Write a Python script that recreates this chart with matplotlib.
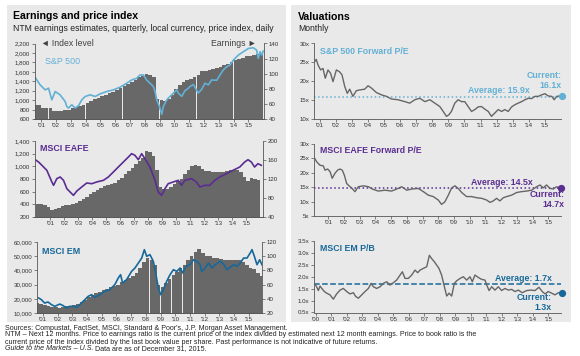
import numpy as np
import matplotlib
matplotlib.use('Agg')
import matplotlib.pyplot as plt
from matplotlib.patches import Rectangle

plt.rcParams['font.family'] = ['Liberation Sans', 'DejaVu Sans']

W, H = 580, 356

# ---- left column: NTM earnings (quarterly bars) and price index (line) ----
sp_eps_start = 2000.5
sp_eps = [59, 59,
          55, 55, 54, 51, 50, 50, 52, 52, 54, 56, 57, 59, 61, 64, 66, 68,
          70, 72, 74, 76, 78, 81, 84, 87, 89, 92, 95, 97, 99, 98, 96, 66,
          65, 64, 66, 72, 80, 85, 89, 91, 93, 96, 98, 103, 104, 105, 106, 107,
          109, 111, 113, 116, 118, 119, 121, 123, 124, 125, 126, 128]
sp_px_year = [2000.59, 2000.71, 2000.93, 2001.27, 2001.50, 2001.72, 2001.95, 2002.28, 2002.62, 2002.73,
              2002.85, 2003.07, 2003.30, 2003.52, 2003.75, 2003.97, 2004.31, 2004.65, 2004.98, 2005.43,
              2005.88, 2006.33, 2006.78, 2007.12, 2007.46, 2007.68, 2007.91, 2008.13, 2008.36, 2008.58,
              2008.70, 2008.81, 2008.99, 2009.15, 2009.26, 2009.49, 2009.82, 2010.16, 2010.27, 2010.50,
              2010.72, 2010.95, 2011.06, 2011.29, 2011.62, 2011.85, 2012.07, 2012.30, 2012.52, 2012.86,
              2013.09, 2013.31, 2013.54, 2013.76, 2013.99, 2014.32, 2014.66, 2015.00, 2015.34, 2015.56,
              2015.67, 2015.79, 2015.90, 2016.01]
sp_px = [1484, 1428, 1323, 1217, 1253, 1007, 1182, 1112, 972, 867,
         832, 902, 832, 880, 1007, 1077, 1112, 1077, 1133, 1182,
         1217, 1274, 1358, 1428, 1463, 1533, 1533, 1428, 1358, 1288,
         1182, 1007, 867, 700, 867, 1007, 1112, 1217, 1147, 1080,
         1200, 1253, 1290, 1330, 1150, 1230, 1358, 1323, 1428, 1420,
         1533, 1639, 1709, 1744, 1849, 1954, 2025, 2095, 2110, 2060,
         1884, 2025, 1954, 2040]

eafe_eps_start = 2000.0
eafe_eps = [68, 68, 66, 62, 55, 57, 60, 64, 65, 66, 68, 70, 73, 78, 83, 88,
            92, 96, 101, 105, 107, 109, 112, 117, 123, 130, 137, 144, 152, 158, 165, 179,
            176, 168, 140, 104, 100, 98, 104, 110, 116, 121, 130, 140, 148, 150, 148, 142,
            137, 136, 135, 134, 134, 135, 137, 139, 140, 139, 134, 125, 116, 123, 120, 117]
eafe_px_year = [1999.93, 2000.17, 2000.41, 2000.76, 2001.12, 2001.24, 2001.47, 2001.71, 2001.95, 2002.19,
                2002.42, 2002.66, 2002.90, 2003.25, 2003.61, 2003.97, 2004.32, 2004.80, 2005.15, 2005.51,
                2005.86, 2006.22, 2006.58, 2006.81, 2007.05, 2007.29, 2007.53, 2007.76, 2008.12, 2008.48,
                2008.71, 2008.95, 2009.19, 2009.42, 2009.78, 2010.14, 2010.37, 2010.61, 2011.09, 2011.44,
                2011.68, 2012.03, 2012.39, 2012.75, 2013.10, 2013.58, 2014.05, 2014.53, 2014.88, 2015.12,
                2015.36, 2015.59, 2015.83, 2016.07]
eafe_px = [1105, 1068, 1016, 937, 753, 700, 805, 832, 779, 647,
           595, 542, 610, 674, 737, 726, 753, 779, 832, 911,
           989, 1068, 1147, 1200, 1174, 1105, 1200, 1121, 990, 780,
           595, 542, 647, 726, 753, 779, 700, 779, 805, 753,
           674, 700, 700, 779, 832, 884, 937, 989, 1068, 1105,
           1068, 989, 1042, 1016]

em_eps_start = 2000.5
em_eps = [34, 33,
          31, 30, 29, 28, 27, 29, 30, 30, 31, 33, 36, 39, 43, 46, 48, 50,
          52, 54, 56, 58, 60, 63, 66, 69, 72, 77, 84, 92, 97, 95, 88, 60,
          56, 62, 68, 74, 78, 84, 88, 94, 100, 106, 110, 104, 100, 100, 98, 97,
          96, 95, 95, 94, 94, 94, 92, 88, 84, 82, 76, 72]
em_px_year = [2000.70, 2000.89, 2001.11, 2001.34, 2001.57, 2001.80, 2002.14, 2002.37, 2002.59, 2002.82,
              2003.05, 2003.28, 2003.50, 2003.85, 2004.07, 2004.30, 2004.53, 2004.87, 2005.21, 2005.55,
              2005.89, 2006.12, 2006.28, 2006.42, 2006.69, 2007.03, 2007.26, 2007.49, 2007.72, 2007.90,
              2008.06, 2008.28, 2008.51, 2008.69, 2008.85, 2009.01, 2009.19, 2009.42, 2009.65, 2009.88,
              2010.11, 2010.33, 2010.52, 2010.74, 2011.02, 2011.24, 2011.47, 2011.70, 2011.81, 2012.04,
              2012.27, 2012.50, 2012.72, 2013.06, 2013.29, 2013.52, 2013.75, 2013.98, 2014.20, 2014.43,
              2014.66, 2014.89, 2015.11, 2015.23, 2015.39, 2015.57, 2015.75, 2015.91]
em_px = [20560, 19400, 17000, 17750, 15900, 14700, 16300, 15200, 13500, 14700,
         14700, 14000, 15900, 19400, 21700, 22900, 21000, 22900, 25300, 26400,
         30000, 34600, 37000, 31100, 33500, 39300, 41700, 45200, 48700, 54600,
         49900, 51100, 46400, 37000, 27600, 22900, 26400, 32300, 37000, 40500,
         39300, 41700, 38200, 42900, 44000, 47500, 46400, 44000, 39300, 41700,
         45200, 41700, 44000, 46400, 44500, 40500, 42200, 44000, 42900, 45200,
         48700, 48700, 52300, 54600, 49900, 44000, 47500, 44000]

# ---- right column: valuations, monthly ----
sp_pe_year = [2000.69, 2000.79, 2000.90, 2001.06, 2001.21, 2001.35, 2001.52, 2001.68, 2001.83, 2002.04,
              2002.24, 2002.39, 2002.56, 2002.72, 2002.87, 2003.07, 2003.28, 2003.49, 2003.80, 2004.01,
              2004.22, 2004.53, 2004.84, 2005.15, 2005.46, 2005.88, 2006.29, 2006.60, 2006.91, 2007.22,
              2007.54, 2007.85, 2008.16, 2008.47, 2008.68, 2008.88, 2009.03, 2009.19, 2009.40, 2009.61,
              2009.82, 2010.02, 2010.23, 2010.44, 2010.65, 2010.85, 2011.06, 2011.27, 2011.48, 2011.68,
              2011.89, 2012.10, 2012.31, 2012.51, 2012.72, 2012.93, 2013.14, 2013.34, 2013.55, 2013.76,
              2013.97, 2014.17, 2014.38, 2014.59, 2014.80, 2015.00, 2015.21, 2015.42, 2015.58, 2015.73,
              2015.94]
sp_pe = [25.2, 25.8, 24.3, 23.0, 23.4, 20.8, 23.0, 22.1, 19.9, 23.0,
         22.5, 21.7, 18.6, 16.8, 17.9, 16.0, 17.5, 17.7, 17.9, 18.8,
         18.2, 17.0, 16.4, 16.0, 15.3, 15.1, 14.6, 14.2, 15.1, 15.5,
         14.6, 15.1, 14.2, 13.3, 12.0, 10.7, 11.1, 12.0, 14.2, 15.1,
         14.6, 14.6, 13.3, 12.0, 12.5, 13.2, 13.3, 12.6, 12.0, 10.7,
         11.6, 12.5, 12.0, 12.5, 12.0, 13.2, 13.8, 14.2, 14.6, 15.1,
         15.5, 15.4, 16.0, 16.0, 16.4, 16.7, 16.1, 16.0, 15.1, 16.0,
         16.1]
sp_pe_avg, sp_pe_cur = 15.9, 16.1

eafe_pe_year = [2000.11, 2000.26, 2000.47, 2000.68, 2000.79, 2000.96, 2001.11, 2001.25, 2001.42, 2001.59,
                2001.74, 2001.89, 2002.02, 2002.17, 2002.32, 2002.48, 2002.70, 2002.91, 2003.23, 2003.55,
                2003.80, 2004.18, 2004.61, 2005.03, 2005.35, 2005.67, 2005.99, 2006.30, 2006.73, 2007.05,
                2007.36, 2007.68, 2008.00, 2008.21, 2008.42, 2008.64, 2008.85, 2009.06, 2009.27, 2009.49,
                2009.80, 2010.12, 2010.44, 2010.76, 2011.08, 2011.29, 2011.50, 2011.71, 2011.92, 2012.14,
                2012.35, 2012.67, 2012.99, 2013.30, 2013.62, 2013.94, 2014.26, 2014.47, 2014.68, 2014.89,
                2015.11, 2015.32, 2015.53, 2015.74]
eafe_pe = [25.1, 23.7, 22.5, 22.3, 20.8, 21.2, 20.3, 18.0, 19.7, 20.8,
           21.2, 20.8, 19.1, 16.2, 15.4, 14.7, 13.4, 15.1, 15.4, 15.1,
           14.3, 13.6, 13.9, 13.6, 14.3, 15.1, 13.9, 14.3, 14.5, 13.4,
           12.2, 11.7, 10.5, 9.0, 9.9, 12.2, 14.7, 15.4, 14.5, 13.1,
           11.7, 11.7, 11.3, 11.1, 10.5, 9.7, 10.2, 11.1, 10.2, 11.3,
           11.7, 12.2, 13.1, 13.4, 13.6, 13.9, 15.1, 15.7, 14.7, 15.7,
           14.5, 14.3, 15.1, 14.7]
eafe_pe_avg, eafe_pe_cur = 14.5, 14.7

em_pb_year = [1999.91, 2000.06, 2000.17, 2000.28, 2000.39, 2000.56, 2000.71, 2000.92, 2001.14, 2001.35,
              2001.57, 2001.78, 2002.00, 2002.21, 2002.43, 2002.58, 2002.75, 2002.97, 2003.18, 2003.40,
              2003.57, 2003.72, 2003.93, 2004.15, 2004.36, 2004.58, 2004.79, 2005.01, 2005.22, 2005.44,
              2005.59, 2005.76, 2005.97, 2006.19, 2006.40, 2006.58, 2006.73, 2006.94, 2007.16, 2007.33,
              2007.48, 2007.65, 2007.80, 2007.95, 2008.12, 2008.30, 2008.45, 2008.60, 2008.77, 2008.94,
              2009.09, 2009.31, 2009.52, 2009.74, 2009.95, 2010.10, 2010.27, 2010.49, 2010.70, 2010.92,
              2011.03, 2011.18, 2011.35, 2011.56, 2011.78, 2011.99, 2012.21, 2012.42, 2012.64, 2012.85,
              2013.07, 2013.32, 2013.60, 2013.88, 2014.14, 2014.40, 2014.61, 2014.79, 2015.00, 2015.22,
              2015.43, 2015.65, 2015.86]
em_pb = [1.72, 1.58, 1.42, 1.61, 1.51, 1.38, 1.31, 1.24, 1.06, 1.28,
         1.44, 1.51, 1.38, 1.28, 1.33, 1.17, 1.10, 1.24, 1.38, 1.51,
         1.72, 1.58, 1.51, 1.58, 1.72, 1.79, 1.65, 1.75, 1.86, 2.07,
         2.21, 1.93, 1.93, 2.07, 2.28, 2.17, 2.28, 2.35, 2.42, 2.90,
         2.76, 2.63, 2.49, 2.35, 2.07, 1.58, 1.19, 1.31, 1.19, 1.72,
         1.83, 1.93, 2.00, 1.86, 2.00, 1.79, 2.07, 1.97, 1.89, 1.86,
         1.65, 1.42, 1.58, 1.44, 1.58, 1.42, 1.51, 1.44, 1.47, 1.38,
         1.44, 1.33, 1.42, 1.44, 1.42, 1.56, 1.38, 1.28, 1.38, 1.31,
         1.24, 1.33, 1.30]
em_pb_avg, em_pb_cur = 1.7, 1.3

SP_BLUE = '#62b0d5'
PURPLE = '#5a2d91'
EM_BLUE = '#17689a'
BAR_GRAY = '#686868'
LINE_GRAY = '#666666'
PANEL = '#e9e9e9'
TXT = '#333333'


def rect(x0, y0, x1, y1):
    return [x0 / W, 1 - y1 / H, (x1 - x0) / W, (y1 - y0) / H]


def ftext(x, y, s, **kw):
    return fig.text(x / W, 1 - y / H, s, **kw)


def style_axis(ax):
    for side in ['top', 'right']:
        ax.spines[side].set_visible(False)
    for side in ['left', 'bottom']:
        ax.spines[side].set_color('#555555')
        ax.spines[side].set_linewidth(0.6)
    ax.patch.set_visible(False)
    ax.tick_params(length=2, width=0.5, color='#555555', labelsize=4.4, labelcolor=TXT, pad=1.2)


def year_ticks(ax, first):
    yrs = list(range(first, 2016))
    ax.set_xticks(yrs)
    ax.set_xticklabels(["'%02d" % (y % 100) for y in yrs])


fig = plt.figure(figsize=(W / 100, H / 100), dpi=100)
fig.patch.set_facecolor('white')
fig.patches.append(Rectangle((7 / W, 1 - 322 / H), 279 / W, 317 / H, transform=fig.transFigure,
                             facecolor=PANEL, edgecolor='none', zorder=-5))
fig.patches.append(Rectangle((291 / W, 1 - 322 / H), 280 / W, 317 / H, transform=fig.transFigure,
                             facecolor=PANEL, edgecolor='none', zorder=-5))

ftext(13, 16, 'Earnings and price index', fontsize=7.6, fontweight='bold', va='center')
ftext(13, 28.5, 'NTM earnings estimates, quarterly, local currency, price index, daily',
      fontsize=6.2, va='center', color='#222222')
ftext(298, 16.5, 'Valuations', fontsize=7.6, fontweight='bold', va='center')
ftext(298, 28.5, 'Monthly', fontsize=6.2, va='center', color='#222222')

left_panels = [
    (rect(34.5, 43.5, 264, 119), sp_eps_start, sp_eps, sp_px_year, sp_px, SP_BLUE,
     (2000.55, 2016.06), (600, 2200, 200), (40, 140, 20)),
    (rect(34.5, 141, 263, 217), eafe_eps_start, eafe_eps, eafe_px_year, eafe_px, PURPLE,
     (1999.88, 2016.19), (200, 1400, 200), (40, 200, 40)),
    (rect(37, 242, 262, 313), em_eps_start, em_eps, em_px_year, em_px, EM_BLUE,
     (2000.59, 2015.91), (10000, 60000, 10000), (20, 120, 20)),
]

for pos, q0, eps, px_year, px, col, xl, ly, ry in left_panels:
    ax = fig.add_axes(pos)
    axb = ax.twinx()
    ax.set_zorder(axb.get_zorder() + 1)
    style_axis(ax)
    style_axis(axb)
    axb.spines['left'].set_visible(False)
    axb.spines['right'].set_visible(True)
    axb.spines['right'].set_color('#555555')
    axb.spines['right'].set_linewidth(0.6)
    qx = q0 + 0.25 * np.arange(len(eps))
    axb.bar(qx, eps, width=0.245, align='edge', color=BAR_GRAY, edgecolor='none')
    ax.plot(px_year, px, color=col, lw=1.2)
    ax.set_xlim(*xl)
    ax.set_ylim(ly[0], ly[1])
    ax.set_yticks(np.arange(ly[0], ly[1] + 1, ly[2]))
    ax.set_yticklabels(['{:,}'.format(int(v)) for v in np.arange(ly[0], ly[1] + 1, ly[2])])
    axb.set_ylim(ry[0], ry[1])
    axb.set_yticks(np.arange(ry[0], ry[1] + 1, ry[2]))
    year_ticks(ax, 2001)

ftext(41, 43.5, '\u25C4 Index level', fontsize=6.2, color='#404040', va='center')
ftext(256, 43.5, 'Earnings \u25BA', fontsize=6.2, color='#404040', va='center', ha='right')
ftext(45, 62, 'S&P 500', fontsize=6.4, color=SP_BLUE, va='center')
ftext(40, 148.5, 'MSCI EAFE', fontsize=6.4, color=PURPLE, fontweight='bold', va='center')
ftext(41.5, 251, 'MSCI EM', fontsize=6.4, color=EM_BLUE, fontweight='bold', va='center')

right_panels = [
    (rect(314, 43.5, 561, 119), sp_pe_year, sp_pe, sp_pe_avg, sp_pe_cur, SP_BLUE, ':',
     (2000.65, 2016.0), (10, 30, 5), 2016.04, 'S&P 500 Forward P/E', 2014.07, 0.35, 20.1, 2016.05, 2001),
    (rect(314, 143.5, 561, 216), eafe_pe_year, eafe_pe, eafe_pe_avg, eafe_pe_cur, PURPLE, ':',
     (2000.09, 2015.81), (5, 30, 5), 2015.8, 'MSCI EAFE Forward P/E', 2014.03, 0.4, 10.7, 2016.06, 2001),
    (rect(314, 241, 561, 312.5), em_pb_year, em_pb, em_pb_avg, em_pb_cur, EM_BLUE, '--',
     (1999.89, 2015.82), (0.5, 3.5, 0.5), 2015.86, 'MSCI EM P/B', 2015.24, 0.04, 0.9, 2015.24, 2000),
]

for (pos, yr, val, avg, cur, col, ls, xl, yl, xdot, name,
     avg_x, avg_off, cur_y, cur_x, first) in right_panels:
    ax = fig.add_axes(pos)
    style_axis(ax)
    ax.plot(yr, val, color=LINE_GRAY, lw=1.0, zorder=3)
    ax.plot([xl[0], xdot], [avg, avg], color=col, lw=1.1, ls=ls, zorder=2)
    ax.plot([xdot], [cur], 'o', color=col, ms=4.2, clip_on=False, zorder=4)
    ax.set_xlim(*xl)
    ax.set_ylim(yl[0], yl[1])
    ticks = np.arange(yl[0], yl[1] + 1e-9, yl[2])
    ax.set_yticks(ticks)
    if yl[2] < 1:
        ax.set_yticklabels(['%.1fx' % t for t in ticks])
    else:
        ax.set_yticklabels(['%dx' % t for t in ticks])
    year_ticks(ax, first)
    ax.text(0.025, 0.9, name, transform=ax.transAxes, fontsize=6.3, color=col,
            fontweight='bold', va='center')
    ax.text(avg_x, avg + avg_off, 'Average: %sx' % avg, fontsize=6.3, color=col,
            fontweight='bold', ha='right', va='bottom', zorder=5)
    ax.text(cur_x, cur_y, 'Current:\n%sx' % cur, fontsize=6.3, color=col, fontweight='bold',
            ha='right', va='center', linespacing=1.15, zorder=5)

notes = [
    "Sources: Compustat, FactSet, MSCI, Standard & Poor's, J.P. Morgan Asset Management.",
    "NTM \u2013 Next 12 months. Price to earnings ratio is the current price of the index divided by estimated "
    "next 12 month earnings. Price to book ratio is the",
    "current price of the index divided by the last book value per share. Past performance is not indicative "
    "of future returns.",
]
for i, line in enumerate(notes):
    ftext(5, 328 + 7 * i, line, fontsize=5.1, va='center', color='#222222')
guide = ftext(5, 349, 'Guide to the Markets \u2013 U.S.', fontsize=5.1, va='center', color='#222222',
              style='italic')
fig.canvas.draw()
gx = guide.get_window_extent().x1
fig.text(gx / W + 1.5 / W, 1 - 349 / H, 'Data are as of December 31, 2015.', fontsize=5.1,
         va='center', color='#222222')

fig.savefig('out.png', dpi=100)
